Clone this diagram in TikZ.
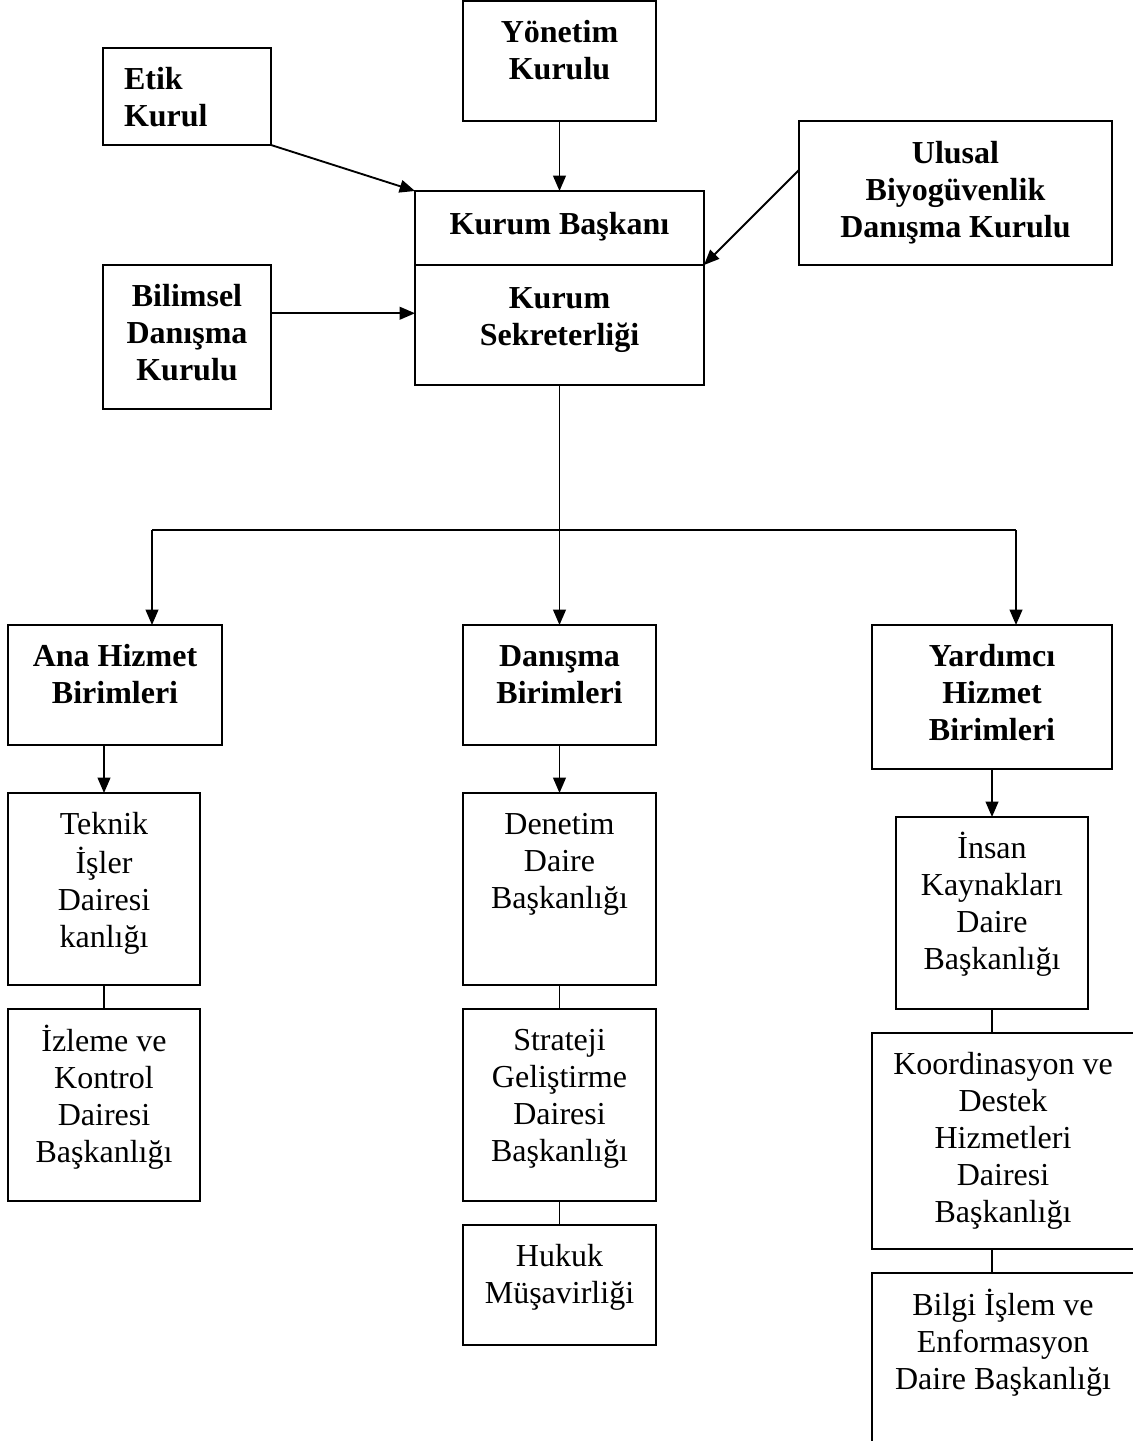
\documentclass[tikz,border=0pt]{standalone}
\usepackage{fontspec}
\setmainfont{Liberation Serif}
\usetikzlibrary{arrows.meta,calc}
\newdimen\pxu \pxu=0.75pt
% name, x1, y1, x2, y2, gap, alignment, text
\newcommand\orgbox[8]{%
  \node[orgnode, anchor=north west] (#1) at (#2,#3)
  {\parbox[c][\dimexpr #5\pxu-#3\pxu\relax][t]{\dimexpr #4\pxu-#2\pxu\relax}{%
     \vspace*{#6\pxu}#7\fontsize{24}{27.75}\selectfont\strut #8\par}};}
\begin{document}
\begin{tikzpicture}[x=0.75pt,y=-0.75pt,
  orgnode/.style={draw, line width=1.4pt, inner sep=0pt, outer sep=0pt},
  arr/.style={line width=1.4pt, -{Triangle[length=11.5pt,width=9.5pt]}},
  conn/.style={line width=1.4pt}]
\useasboundingbox (0,0) rectangle (1132,1441);

% top level
\orgbox{yonetim}{463}{1}{656}{121}{16}{\centering\bfseries}{Yönetim\\Kurulu}
\orgbox{etik}{103}{48}{271}{145}{16}{\raggedright\leftskip=21\pxu\bfseries}{Etik\\Kurul}
\orgbox{baskan}{415}{191}{704}{265}{18}{\centering\bfseries}{Kurum Başkanı}
\orgbox{sekreter}{415}{265}{704}{385}{18}{\centering\bfseries}{Kurum\\Sekreterliği}
\orgbox{ulusal}{799}{121}{1112}{265}{17}{\centering\bfseries}{Ulusal\\Biyogüvenlik\\Danışma Kurulu}
\orgbox{bilimsel}{103}{265}{271}{409}{16}{\centering\bfseries}{Bilimsel\\Danışma\\Kurulu}

% second level
\orgbox{ana}{8}{625}{222}{745}{16}{\centering\bfseries}{Ana Hizmet\\Birimleri}
\orgbox{danisma}{463}{625}{656}{745}{16}{\centering\bfseries}{Danışma\\Birimleri}
\orgbox{yardimci}{872}{625}{1112}{769}{16}{\centering\bfseries}{Yardımcı\\Hizmet\\Birimleri}

% left column
\orgbox{teknik}{8}{793}{200}{985}{16}{\centering}{Teknik\\İşler\\Dairesi\\kanlığı}
\orgbox{izleme}{8}{1009}{200}{1201}{16}{\centering}{İzleme ve\\Kontrol\\Dairesi\\Başkanlığı}

% middle column
\orgbox{denetim}{463}{793}{656}{985}{16}{\centering}{Denetim\\Daire\\Başkanlığı}
\orgbox{strateji}{463}{1009}{656}{1201}{16}{\centering}{Strateji\\Geliştirme\\Dairesi\\Başkanlığı}
\orgbox{hukuk}{463}{1225}{656}{1345}{16}{\centering}{Hukuk\\Müşavirliği}

% right column
\orgbox{insan}{896}{817}{1088}{1009}{15}{\centering}{İnsan\\Kaynakları\\Daire\\Başkanlığı}
\orgbox{koord}{872}{1033}{1134}{1249}{16}{\centering}{Koordinasyon ve\\Destek\\Hizmetleri\\Dairesi\\Başkanlığı}
\orgbox{bilgi}{872}{1273}{1134}{1445}{16}{\centering}{Bilgi İşlem ve\\Enformasyon\\Daire Başkanlığı}

% arrows into the president / secretariat
\draw[arr] (etik.south east) -- (baskan.north west);
\draw[arr] (yonetim.south) -- (baskan.north);
\draw[arr] ($(ulusal.north west)!0.34!(ulusal.south west)$) -- (baskan.south east);
\draw[arr] ($(bilimsel.north east)!0.335!(bilimsel.south east)$) coordinate (bl) -- (bl -| sekreter.west);

% distribution bus
\coordinate (busM) at ($(sekreter.south)+(0,145)$);
\coordinate (busL) at (152,530);
\coordinate (busR) at (1016,530);
\draw[conn] (sekreter.south) -- (busM);
\draw[conn] (busL) -- (busR);
\draw[arr] (busL) -- (busL |- ana.north);
\draw[arr] (busM) -- (danisma.north);
\draw[arr] (busR) -- (busR |- yardimci.north);

% columns
\draw[arr] (teknik.north |- ana.south) -- (teknik.north);
\draw[conn] (teknik.south) -- (izleme.north);
\draw[arr] (danisma.south) -- (denetim.north);
\draw[conn] (denetim.south) -- (strateji.north);
\draw[conn] (strateji.south) -- (hukuk.north);
\draw[arr] (insan.north |- yardimci.south) -- (insan.north);
\draw[conn] (insan.south) -- (insan.south |- koord.north);
\draw[conn] (insan.south |- koord.south) -- (insan.south |- bilgi.north);
\end{tikzpicture}
\end{document}
